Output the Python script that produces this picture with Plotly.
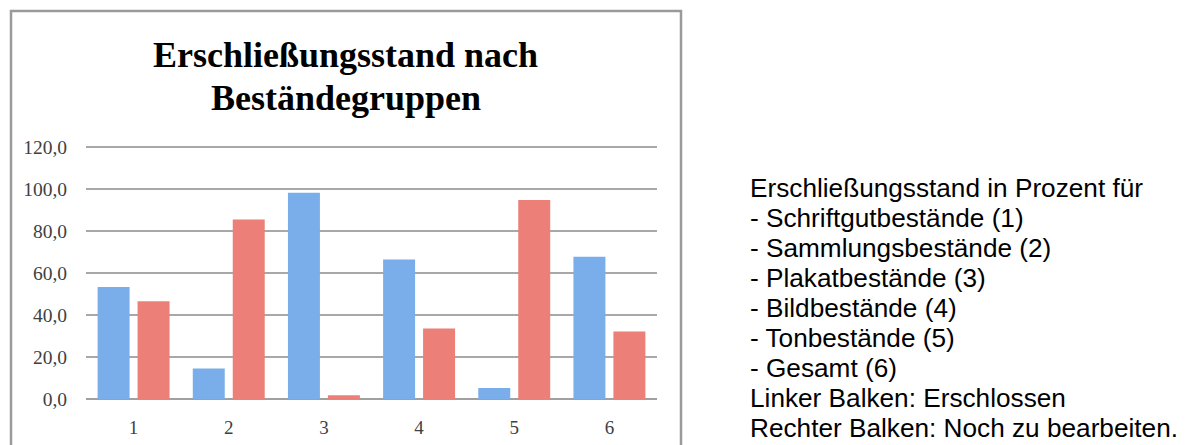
import plotly.graph_objects as go

categories = ["1", "2", "3", "4", "5", "6"]
erschlossen = [53.4, 14.5, 98.2, 66.4, 5.2, 67.8]
noch_zu_bearbeiten = [46.6, 85.5, 1.8, 33.6, 94.8, 32.2]
y_ticks = [0, 20, 40, 60, 80, 100, 120]
y_ticktext = [f"{v:.1f}".replace(".", ",") for v in y_ticks]
title_lines = ["Erschließungsstand nach", "Beständegruppen"]
side_lines = [
    "Erschließungsstand in Prozent für",
    "- Schriftgutbestände (1)",
    "- Sammlungsbestände (2)",
    "- Plakatbestände (3)",
    "- Bildbestände (4)",
    "- Tonbestände (5)",
    "- Gesamt (6)",
    "Linker Balken: Erschlossen",
    "Rechter Balken: Noch zu bearbeiten.",
]

W, H = 1186, 445
L, R, T, B = 86, 657, 146, 399  # plot area in pixels


def px(x):
    return (x - L) / (R - L)


def py(y):
    return (B - y) / (B - T)


fig = go.Figure()
fig.add_trace(go.Bar(x=categories, y=erschlossen, name="Erschlossen",
                     marker=dict(color="#7aaeea", line=dict(width=0))))
fig.add_trace(go.Bar(x=categories, y=noch_zu_bearbeiten, name="Noch zu bearbeiten",
                     marker=dict(color="#ec7f78", line=dict(width=0))))

annotations = []
for i, t in enumerate(title_lines):
    annotations.append(dict(text=f"<b>{t}</b>", x=px(345.5), y=py(55 + 43 * i),
                            xref="paper", yref="paper",
                            xanchor="center", yanchor="middle", showarrow=False, align="center",
                            font=dict(family="Liberation Serif", size=36, color="#000000")))
for i, line in enumerate(side_lines):
    annotations.append(dict(text=line, x=px(748), y=py(188 + 30.0 * i), xref="paper", yref="paper",
                            xanchor="left", yanchor="middle", showarrow=False, align="left",
                            font=dict(family="Liberation Sans, Arial", size=26.2, color="#000000")))

shapes = [dict(type="rect", xref="paper", yref="paper",
               x0=px(11), x1=px(681), y0=py(460), y1=py(11),
               line=dict(color="#9a9a9a", width=2.5), fillcolor="rgba(0,0,0,0)", layer="below")]

fig.update_layout(
    width=W, height=H,
    margin=dict(l=L, r=W - R, t=T, b=H - B, pad=0, autoexpand=False),
    paper_bgcolor="white", plot_bgcolor="white",
    showlegend=False,
    barmode="group", bargap=0.16, bargroupgap=0.2,
    annotations=annotations, shapes=shapes,
    xaxis=dict(showgrid=False, showline=False, zeroline=False, ticks="",
               ticklabelstandoff=15, automargin=False,
               tickfont=dict(family="Liberation Serif", size=19, color="#404040")),
    yaxis=dict(range=[0, 120.5], tickvals=y_ticks, ticktext=y_ticktext,
               showgrid=True, gridcolor="#a8a8a8", gridwidth=1.6,
               zeroline=True, zerolinecolor="#a0a0a0", zerolinewidth=2,
               showline=False, ticks="", ticklabelstandoff=18, automargin=False,
               tickfont=dict(family="Liberation Serif", size=19.5, color="#404040")),
)

fig.write_html("out.html")
